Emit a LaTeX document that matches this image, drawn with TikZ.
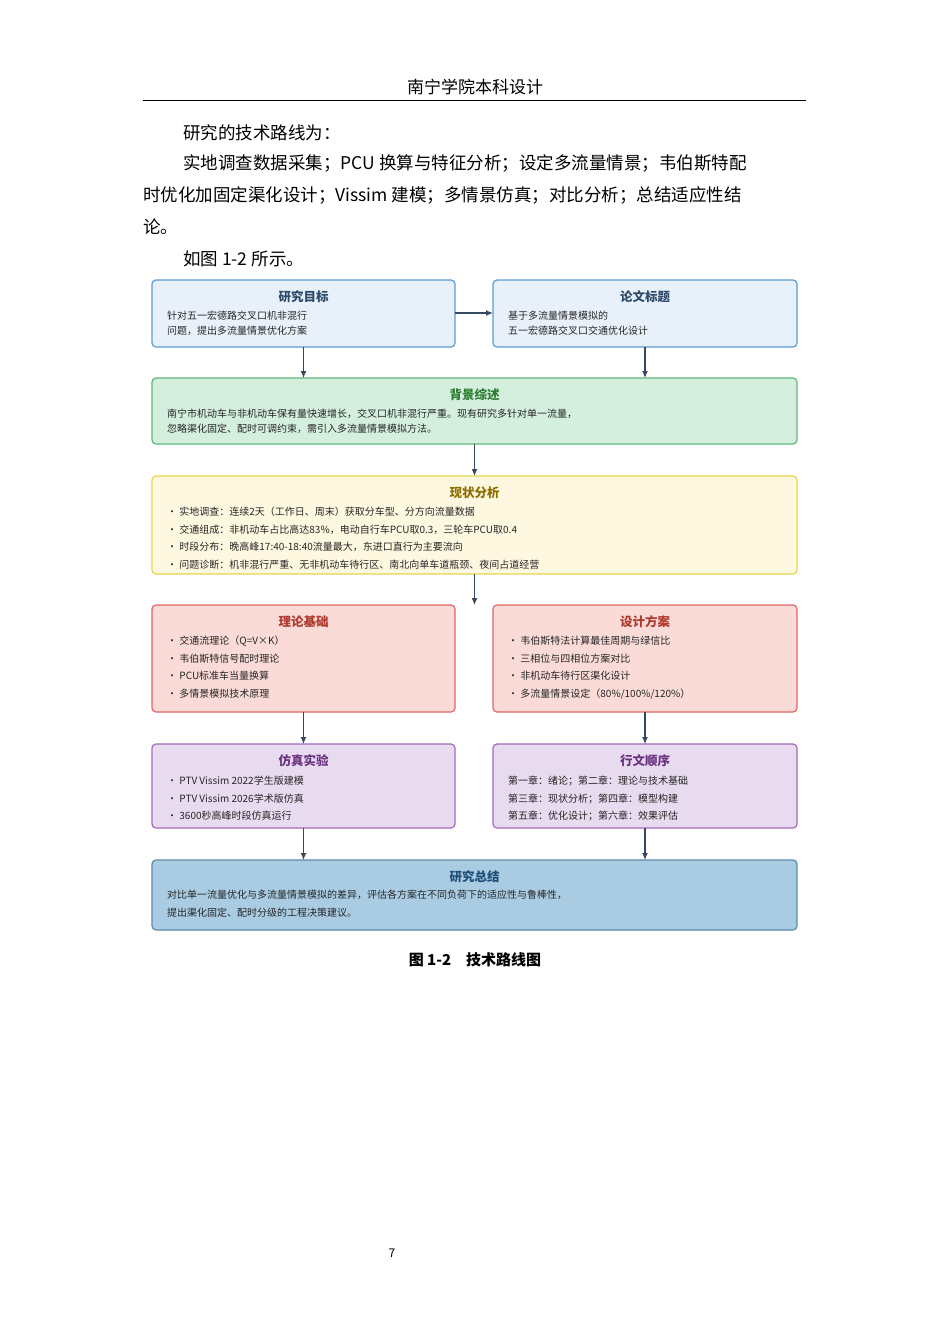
\documentclass[tikz,border=0pt]{standalone}
\usepackage{fontspec}
\setmainfont{Noto Sans CJK SC}
\usetikzlibrary{arrows.meta}
\definecolor{arr}{HTML}{34495E}
\definecolor{bF}{HTML}{E8F1F9}\definecolor{bD}{HTML}{5B9BD5}\definecolor{bT}{HTML}{2E4A6B}
\definecolor{gF}{HTML}{D5EFDF}\definecolor{gD}{HTML}{5CB878}\definecolor{gT}{HTML}{2E7D32}
\definecolor{yF}{HTML}{FFF8E1}\definecolor{yD}{HTML}{E8D44D}\definecolor{yT}{HTML}{8D6E00}
\definecolor{rF}{HTML}{FADBD8}\definecolor{rD}{HTML}{E06666}\definecolor{rT}{HTML}{B03A2E}
\definecolor{pF}{HTML}{E8DAEF}\definecolor{pD}{HTML}{A569BD}\definecolor{pT}{HTML}{6C3483}
\definecolor{sF}{HTML}{A9CCE3}\definecolor{sD}{HTML}{5D8AA8}\definecolor{sT}{HTML}{1F4E79}
\begin{document}
\begin{tikzpicture}[x=1pt,y=-1pt,
 box/.style={draw=#1D,fill=#1F,line width=1.2pt,rounded corners=4pt},
 ttl/.style={font=\fontsize{12.5}{14}\selectfont\bfseries,text=#1T,anchor=center},
 txt/.style={font=\fontsize{10}{18}\selectfont,anchor=north west,align=left,inner sep=0pt,text=black!85},
 body/.style={font=\fontsize{17.5}{20}\selectfont,anchor=west,inner sep=0pt},
 ar/.style={draw=arr,line width=1.2pt,-{Latex[length=7pt,width=6pt]}}]
\useasboundingbox (0,0) rectangle (950,1344);
\fill[white] (0,0) rectangle (950,1344);
\node[font=\fontsize{17}{20}\selectfont] (hd) at (475,87) {南宁学院本科设计};
\draw[line width=0.8pt] (143,100) -- (806,100);
\node[body] (l1) at (183,133) {研究的技术路线为：};
\node[body] (l2) at (183,163) {实地调查数据采集；PCU 换算与特征分析；设定多流量情景；韦伯斯特配};
\node[body] (l3) at (143,195) {时优化加固定渠化设计；Vissim 建模；多情景仿真；对比分析；总结适应性结};
\node[body] (l4) at (143,227) {论。};
\node[body] (l5) at (183,259) {如图 1-2 所示。};
% boxes
\draw[box=b] (152,280) rectangle (455,347); \coordinate (b1) at (303.5,313.5);
\draw[box=b] (493,280) rectangle (797,347);
\node[ttl=b] (t1) at (303.5,297) {研究目标};
\node[txt] (x1) at (167,311) {针对五一宏德路交叉口机非混行\\[-3pt]问题，提出多流量情景优化方案};
\node[ttl=b] (t2) at (645,297) {论文标题};
\node[txt] (x2) at (508,311) {基于多流量情景模拟的\\[-3pt]五一宏德路交叉口交通优化设计};
\draw[box=g] (152,378) rectangle (797,444);
\node[ttl=g] (t3) at (474.5,395) {背景综述};
\node[txt] (x3) at (167,409) {南宁市机动车与非机动车保有量快速增长，交叉口机非混行严重。现有研究多针对单一流量，\\[-3pt]忽略渠化固定、配时可调约束，需引入多流量情景模拟方法。};
\draw[box=y] (152,476) rectangle (797,574);
\node[ttl=y] (t4) at (474.5,493) {现状分析};
\node[txt] (x4) at (167,507) {・ 实地调查：连续2天（工作日、周末）获取分车型、分方向流量数据\\[-0.5pt]・ 交通组成：非机动车占比高达83\%，电动自行车PCU取0.3，三轮车PCU取0.4\\[-0.5pt]・ 时段分布：晚高峰17:40-18:40流量最大，东进口直行为主要流向\\[-0.5pt]・ 问题诊断：机非混行严重、无非机动车待行区、南北向单车道瓶颈、夜间占道经营};
\draw[box=r] (152,605) rectangle (455,712);
\node[ttl=r] (t5) at (303.5,622) {理论基础};
\node[txt] (x5) at (167,636) {・ 交通流理论（Q=V×K）\\[-0.5pt]・ 韦伯斯特信号配时理论\\[-0.5pt]・ PCU标准车当量换算\\[-0.5pt]・ 多情景模拟技术原理};
\draw[box=r] (493,605) rectangle (797,712);
\node[ttl=r] (t6) at (645,622) {设计方案};
\node[txt] (x6) at (508,636) {・ 韦伯斯特法计算最佳周期与绿信比\\[-0.5pt]・ 三相位与四相位方案对比\\[-0.5pt]・ 非机动车待行区渠化设计\\[-0.5pt]・ 多流量情景设定（80\%/100\%/120\%）};
\draw[box=p] (152,744) rectangle (455,828);
\node[ttl=p] (t7) at (303.5,761) {仿真实验};
\node[txt] (x7) at (167,776) {・ PTV Vissim 2022学生版建模\\[-0.5pt]・ PTV Vissim 2026学术版仿真\\[-0.5pt]・ 3600秒高峰时段仿真运行};
\draw[box=p] (493,744) rectangle (797,828);
\node[ttl=p] (t8) at (645,761) {行文顺序};
\node[txt] (x8) at (508,776) {第一章：绪论；第二章：理论与技术基础\\[-0.5pt]第三章：现状分析；第四章：模型构建\\[-0.5pt]第五章：优化设计；第六章：效果评估};
\draw[box=s] (152,860) rectangle (797,930);
\node[ttl=s] (t9) at (474.5,877) {研究总结};
\node[txt] (x9) at (167,890) {对比单一流量优化与多流量情景模拟的差异，评估各方案在不同负荷下的适应性与鲁棒性，\\[-0.5pt]提出渠化固定、配时分级的工程决策建议。};
% anchors for arrows
\coordinate (a1s) at (455,313); \coordinate (a1e) at (493,313);
\draw[ar] (a1s) -- (a1e);
\coordinate (p1) at (303.5,347); \coordinate (p2) at (303.5,378);
\coordinate (q1) at (645,347); \coordinate (q2) at (645,378);
\draw[ar] (p1) -- (p2); \draw[ar] (q1) -- (q2);
\coordinate (c1) at (474.5,444); \coordinate (c2) at (474.5,476);
\draw[ar] (c1) -- (c2);
\coordinate (c3) at (474.5,574); \coordinate (c4) at (474.5,605);
\draw[ar] (c3) -- (c4);
\coordinate (p3) at (303.5,712); \coordinate (p4) at (303.5,744);
\coordinate (q3) at (645,712); \coordinate (q4) at (645,744);
\draw[ar] (p3) -- (p4); \draw[ar] (q3) -- (q4);
\coordinate (p5) at (303.5,828); \coordinate (p6) at (303.5,860);
\coordinate (q5) at (645,828); \coordinate (q6) at (645,860);
\draw[ar] (p5) -- (p6); \draw[ar] (q5) -- (q6);
\node[font=\fontsize{15}{18}\selectfont\bfseries] (cap) at (475,960) {图 1-2\quad 技术路线图};
\node[font=\fontsize{12}{14}\selectfont] (pg) at (392,1253) {7};
\end{tikzpicture}
\end{document}
